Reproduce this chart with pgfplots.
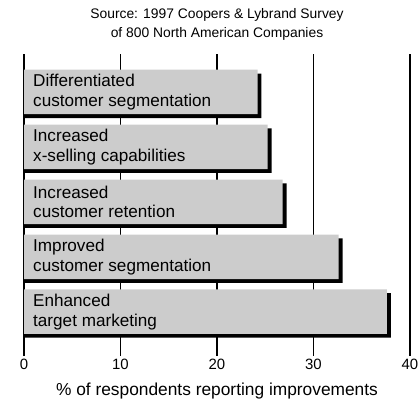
\documentclass[border=0pt]{standalone}
\usepackage{fontspec}
\setmainfont{Liberation Sans}
\usepackage{pgfplots}
\pgfplotsset{compat=1.18}
\definecolor{barg}{RGB}{204,204,204}
\begin{document}
\begin{tikzpicture}
\path[use as bounding box] (-24bp,-44.5bp) rectangle (395bp,356bp);
\begin{axis}[
  at={(0,0)}, anchor=south west,
  scale only axis, width=386bp, height=302bp,
  xmin=0, xmax=40, ymin=0.193, ymax=5.692,
  xtick={0,10,20,30,40}, ytick=\empty,
  xmajorgrids, grid style={black, line width=1.2bp},
  axis line style={draw=none}, major tick length=0pt,
  xbar, bar width=44.5bp, clip=false,
  /pgf/number format/assume math mode=true,
  xticklabel style={font=\fontsize{15}{18}\selectfont},
  xlabel={\% of respondents reporting improvements},
  xlabel style={font=\fontsize{17.4}{20}\selectfont, yshift=-6bp},
]
\addplot[fill=black, draw=none, bar shift=-3.8bp] coordinates {
(24.61,5) (25.66,4) (27.21,3) (33.01,2) (38.01,1)};
\addplot[fill=barg, draw=none, bar shift=0pt] coordinates {
(24.2,5) (25.25,4) (26.8,3) (32.6,2) (37.6,1)};
\tikzset{lab/.style={anchor=west, align=left, inner sep=0pt, xshift=9bp, font=\fontsize{17.2}{20}\selectfont}}
\node[lab] at (axis cs:0,5) {Differentiated\\customer segmentation};
\node[lab] at (axis cs:0,4) {Increased\\x-selling capabilities};
\node[lab] at (axis cs:0,3) {Increased\\customer retention};
\node[lab] at (axis cs:0,2) {Improved\\customer segmentation};
\node[lab] at (axis cs:0,1) {Enhanced\\target marketing};
\node[anchor=base, inner sep=0pt, yshift=35.1bp, font=\fontsize{13.9}{16}\selectfont] at (rel axis cs:0.5,1) {Source: 1997 Coopers \& Lybrand Survey};
\node[anchor=base, inner sep=0pt, yshift=16.7bp, font=\fontsize{13.9}{16}\selectfont] at (rel axis cs:0.5,1) {of 800 North American Companies};
\end{axis}
\end{tikzpicture}
\end{document}
